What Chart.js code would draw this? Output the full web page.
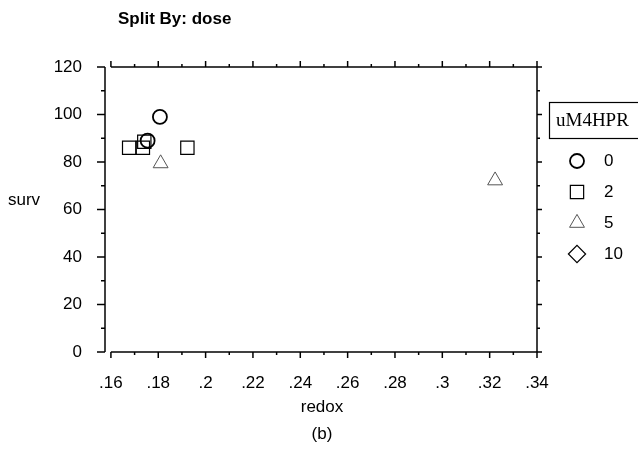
<!DOCTYPE html>
<html>
<head>
<meta charset="UTF-8">
<title>Split By: dose</title>
<script src="https://cdn.jsdelivr.net/npm/chart.js"></script>
<style>
body { margin: 0; background: #fff; }
canvas { display: block; }
</style>
</head>
<body>
<canvas id="plot" width="638" height="449"></canvas>
<script>
// values
const doseLabels = ['0', '2', '5', '10'];
const doseStyles = ['circle', 'rect', 'triangle', 'rectRot'];
const dose0 = [{x: 0.1807, y: 99.0}, {x: 0.1755, y: 89.0}];
const dose2 = [{x: 0.1677, y: 86.0}, {x: 0.1735, y: 86.0}, {x: 0.1741, y: 88.5}, {x: 0.1923, y: 86.0}];
const dose5 = [{x: 0.1810, y: 79.4}, {x: 0.3223, y: 72.2}];
const dose10 = [];
const xTicks = [0.16, 0.18, 0.2, 0.22, 0.24, 0.26, 0.28, 0.3, 0.32, 0.34];
const yTicks = [0, 20, 40, 60, 80, 100, 120];

const sans = "'Liberation Sans', Arial, sans-serif";
const radii = [7, 9.4, 8.6, 8.6];
const colors = ['#000', '#000', '#555', '#000'];
const widths = [1.8, 1.2, 1, 1.2];

const datasets = [dose0, dose2, dose5, dose10].map((d, i) => ({
  label: doseLabels[i],
  data: d,
  pointStyle: doseStyles[i],
  pointRadius: radii[i],
  pointBorderColor: colors[i],
  pointBackgroundColor: 'rgba(0,0,0,0)',
  pointBorderWidth: widths[i]
}));

function line(ctx, x1, y1, x2, y2) {
  ctx.beginPath(); ctx.moveTo(x1, y1); ctx.lineTo(x2, y2); ctx.stroke();
}

const frame = {
  id: 'frame',
  afterDraw(chart) {
    const {ctx, chartArea: a, scales: {x, y}} = chart;
    ctx.save();
    ctx.strokeStyle = '#000';
    ctx.lineWidth = 1.5;
    const x0 = x.getPixelForValue(xTicks[0]);
    line(ctx, a.left, a.top, a.left, a.bottom);
    line(ctx, x0, a.bottom, a.right, a.bottom);
    line(ctx, x0, a.top, a.right, a.top);
    line(ctx, a.right, a.top, a.right, a.bottom);

    // y ticks, minor ones halfway
    for (let i = 0; i < yTicks.length; i++) {
      const py = y.getPixelForValue(yTicks[i]);
      line(ctx, a.left - 8, py, a.left, py);
      line(ctx, a.right, py, a.right + 5, py);
      if (i < yTicks.length - 1) {
        const pm = y.getPixelForValue((yTicks[i] + yTicks[i + 1]) / 2);
        line(ctx, a.left - 4, pm, a.left, pm);
        line(ctx, a.right, pm, a.right + 3, pm);
      }
    }
    // x ticks
    for (let i = 0; i < xTicks.length; i++) {
      const px = x.getPixelForValue(xTicks[i]);
      line(ctx, px, a.bottom, px, a.bottom + 6);
      line(ctx, px, a.top - 6, px, a.top);
      if (i < xTicks.length - 1) {
        const pm = x.getPixelForValue((xTicks[i] + xTicks[i + 1]) / 2);
        line(ctx, pm, a.bottom, pm, a.bottom + 3);
        line(ctx, pm, a.top - 3, pm, a.top);
      }
    }

    // texts
    ctx.fillStyle = '#000';
    ctx.textBaseline = 'middle';
    ctx.textAlign = 'left';
    ctx.font = 'bold 17px ' + sans;
    ctx.fillText('Split By: dose', 118, 19);
    ctx.font = '17px ' + sans;
    ctx.fillText('surv', 8, 200);
    ctx.textAlign = 'center';
    ctx.fillText('redox', 322, 407);
    ctx.fillText('(b)', 322, 434);

    // legend
    ctx.lineWidth = 1.2;
    ctx.strokeRect(549.5, 102.5, 100, 36);
    ctx.textAlign = 'left';
    ctx.font = "19px 'Liberation Serif', 'Times New Roman', serif";
    ctx.fillText('uM4HPR', 556, 121);
    ctx.font = '17px ' + sans;
    chart.data.datasets.forEach((ds, i) => {
      const ly = 161 + i * 31;
      ctx.strokeStyle = ds.pointBorderColor;
      ctx.lineWidth = ds.pointBorderWidth;
      ctx.fillStyle = 'rgba(0,0,0,0)';
      Chart.helpers.drawPoint(ctx, {
        pointStyle: ds.pointStyle,
        radius: ds.pointRadius,
        rotation: 0,
        borderWidth: ds.pointBorderWidth
      }, 577, ly);
      ctx.fillStyle = '#000';
      ctx.fillText(ds.label, 604, ly);
    });
    ctx.restore();
  }
};

new Chart(document.getElementById('plot'), {
  type: 'scatter',
  data: { datasets: datasets },
  options: {
    responsive: false,
    animation: false,
    layout: { padding: { left: 0, top: 67, right: 101, bottom: 0 } },
    plugins: { legend: { display: false }, tooltip: { enabled: false } },
    scales: {
      x: {
        type: 'linear',
        min: 0.1575,
        max: 0.34,
        afterBuildTicks: s => { s.ticks = xTicks.map(v => ({value: v})); },
        afterFit: s => { s.height = 97; },
        grid: { display: false, drawTicks: false },
        border: { display: false },
        ticks: {
          padding: 21,
          maxRotation: 0,
          autoSkip: false,
          color: '#000',
          font: { family: sans, size: 17 },
          callback: v => String(v).replace(/^0/, '')
        }
      },
      y: {
        min: 0,
        max: 120,
        afterBuildTicks: s => { s.ticks = yTicks.map(v => ({value: v})); },
        afterFit: s => { s.width = 105; },
        grid: { display: false, drawTicks: false },
        border: { display: false },
        ticks: {
          padding: 23,
          color: '#000',
          font: { family: sans, size: 17 }
        }
      }
    }
  },
  plugins: [frame]
});
</script>
</body>
</html>
